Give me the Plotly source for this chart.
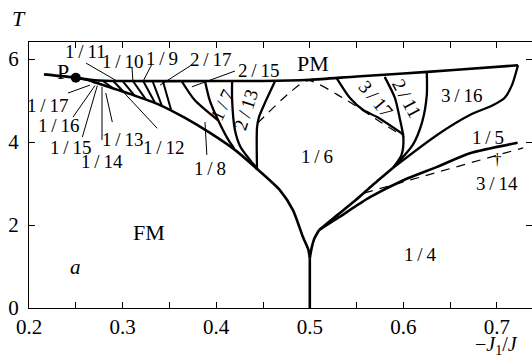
import plotly.graph_objects as go

# ---------------- data ----------------
# paramagnetic (PM) boundary
pm_x = [0.216, 0.25, 0.27, 0.30, 0.40, 0.45, 0.50, 0.55, 0.60, 0.65, 0.7224]
pm_T = [5.63, 5.55, 5.49, 5.47, 5.47, 5.47, 5.50, 5.58, 5.65, 5.73, 5.85]

# FM boundary (envelope) continuing into left branch of the 1/6 tongue
env_x = [0.25, 0.262, 0.2727, 0.3079, 0.340, 0.3667, 0.3934, 0.420, 0.4447, 0.468, 0.482, 0.4927, 0.4985, 0.5]
env_T = [5.55, 5.50, 5.42, 5.16, 4.89, 4.58, 4.22, 3.81, 3.33, 2.84, 2.36, 1.71, 1.40, 1.20]

# vertical line at -J1/J = 0.5
vert_x = [0.5, 0.5]
vert_T = [1.20, 0.0]

# right branch from the cusp
cusp_x = [0.5, 0.502, 0.505, 0.51]
cusp_T = [1.20, 1.45, 1.68, 1.88]
upper_x = [0.51, 0.53, 0.55, 0.567, 0.589]
upper_T = [1.88, 2.25, 2.62, 2.96, 3.38]
lower_x = [0.51, 0.53, 0.5643, 0.60, 0.636, 0.671, 0.722]
lower_T = [1.88, 2.17, 2.67, 3.08, 3.40, 3.73, 3.98]

# small-fraction fan (1/9 ... 1/17) boundaries: top point -> envelope point
fan_x0 = [0.279, 0.290, 0.300, 0.311, 0.322, 0.332, 0.343]
fan_T0 = [5.47, 5.47, 5.47, 5.47, 5.47, 5.47, 5.47]
fan_x1 = [0.290, 0.301, 0.313, 0.325, 0.335, 0.342, 0.352]
fan_T1 = [5.29, 5.21, 5.11, 5.02, 4.93, 4.87, 4.76]

# larger tongues (left side)
b18_x = [0.363, 0.377, 0.402]
b18_T = [5.47, 5.01, 4.52]
b17_x = [0.388, 0.393, 0.402, 0.413, 0.419]
b17_T = [5.47, 5.01, 4.53, 4.05, 3.85]
b17_213_x = [0.417, 0.417, 0.420, 0.426, 0.436, 0.4436]
b17_213_T = [5.47, 5.01, 4.29, 3.88, 3.57, 3.37]
b213_x = [0.463, 0.452, 0.4457, 0.4436, 0.4436]
b213_T = [5.47, 4.94, 4.60, 4.34, 3.33]

# tongues (right side)
b317_x = [0.529, 0.543, 0.557, 0.572, 0.6006]
b317_T = [5.53, 5.06, 4.77, 4.60, 4.17]
b317_211_x = [0.580, 0.591, 0.596, 0.600, 0.598, 0.589]
b317_211_T = [5.57, 5.06, 4.58, 4.10, 3.69, 3.38]
b211_316_x = [0.625, 0.625, 0.620, 0.610, 0.589]
b211_316_T = [5.69, 5.13, 4.48, 3.93, 3.38]
b316_x = [0.589, 0.636, 0.671, 0.696, 0.708, 0.716, 0.7224]
b316_T = [3.38, 4.17, 4.65, 4.89, 5.06, 5.37, 5.85]

# dashed lines
dash1_x = [0.444, 0.479, 0.498, 0.5355, 0.577, 0.601]
dash1_T = [4.45, 5.20, 5.48, 5.06, 4.46, 4.12]
dash2_x = [0.558, 0.728]
dash2_T = [2.77, 3.86]

# leader lines for the labels
lead_names = ["1/17", "1/16", "1/15", "1/14", "1/13", "1/12", "1/11", "1/10", "1/9", "2/17", "2/15", "1/8"]
lead_x0 = [0.2417, 0.247, 0.257, 0.278, 0.289, 0.337, 0.261, 0.310, 0.331, 0.374, 0.420, 0.390]
lead_T0 = [5.18, 4.60, 4.12, 4.05, 4.48, 4.33, 5.90, 5.81, 5.86, 5.86, 5.71, 3.69]
lead_x1 = [0.265, 0.2705, 0.273, 0.278, 0.282, 0.294, 0.294, 0.311, 0.322, 0.340, 0.374, 0.388]
lead_T1 = [5.37, 5.36, 5.36, 5.33, 5.18, 5.37, 5.47, 5.49, 5.47, 5.37, 5.33, 4.48]

# point P
p_x = [0.25]
p_T = [5.55]

# region labels
lab_text = ["1/17", "1/16", "1/15", "1/14", "1/13", "1/12", "1/11", "1/10", "1/9", "2/17", "2/15", "1/8",
            "1/7", "2/13", "3/17", "2/11", "3/16", "1/5", "3/14", "1/6", "1/4"]
lab_x = [0.220, 0.231, 0.244, 0.278, 0.300, 0.344, 0.260, 0.300, 0.342, 0.394, 0.445, 0.393,
         0.406, 0.431, 0.570, 0.604, 0.6626, 0.690, 0.700, 0.508, 0.618]
lab_T = [4.89, 4.41, 3.86, 3.52, 4.07, 3.86, 6.19, 5.95, 6.02, 5.98, 5.73, 3.37,
         4.89, 4.77, 5.04, 5.06, 5.13, 4.12, 3.01, 3.64, 1.28]
lab_angle = [0, 0, 0, 0, 0, 0, 0, 0, 0, 0, 0, 0,
             -65, -72, 50, 62, 0, 0, 0, 0, 0]

big_text = ["PM", "FM", "P"]
big_x = [0.503, 0.328, 0.236]
big_T = [5.88, 1.81, 5.71]

x_ticks = [0.2, 0.3, 0.4, 0.5, 0.6, 0.7]
x_ticktext = ["0.2", "0.3", "0.4", "0.5", "0.6", "0.7"]
y_ticks = [0, 2, 4, 6]
y_ticktext = ["0", "2", "4", "6"]

# ---------------- figure ----------------
FONT = "Liberation Serif"
fig = go.Figure()


def add_line(x, y, w=2.6, dash=None, spline=True):
    fig.add_trace(go.Scatter(
        x=x, y=y, mode="lines", hoverinfo="skip", showlegend=False,
        line=dict(color="black", width=w, dash=dash,
                  shape="spline" if (spline and len(x) > 2) else "linear", smoothing=0.7)))


add_line(pm_x, pm_T, 2.6)
add_line(env_x, env_T, 2.6)
add_line(vert_x, vert_T, 2.6)
add_line(cusp_x, cusp_T, 2.6)
add_line(upper_x, upper_T, 2.6)
add_line(lower_x, lower_T, 2.6)
for i in range(len(fan_x0)):
    add_line([fan_x0[i], fan_x1[i]], [fan_T0[i], fan_T1[i]], 2.0)
for bx, bT in [(b18_x, b18_T), (b17_x, b17_T), (b17_213_x, b17_213_T), (b213_x, b213_T),
               (b317_x, b317_T), (b317_211_x, b317_211_T), (b211_316_x, b211_316_T), (b316_x, b316_T)]:
    add_line(bx, bT, 2.3)
add_line(dash1_x, dash1_T, 1.2, dash="9px,7px")
add_line(dash2_x, dash2_T, 1.2, dash="9px,7px")
for i in range(len(lead_x0)):
    add_line([lead_x0[i], lead_x1[i]], [lead_T0[i], lead_T1[i]], 1.0)

fig.add_trace(go.Scatter(x=p_x, y=p_T, mode="markers", hoverinfo="skip", showlegend=False,
                         marker=dict(color="black", size=10)))

TH = "\u2009"
for t, x, y, a in zip(lab_text, lab_x, lab_T, lab_angle):
    fig.add_annotation(x=x, y=y, text=t.replace("/", TH + "/" + TH), showarrow=False,
                       xanchor="center", yanchor="middle",
                       textangle=a, font=dict(family=FONT, size=19, color="black"))
for t, x, y in zip(big_text, big_x, big_T):
    fig.add_annotation(x=x, y=y, text=t, showarrow=False, xanchor="center", yanchor="middle",
                       font=dict(family=FONT, size=22, color="black"))
fig.add_annotation(x=0.250, y=0.99, text="<i>a</i>", showarrow=False,
                   xanchor="center", yanchor="middle",
                   font=dict(family=FONT, size=21, color="black"))
fig.add_annotation(x=0.701, y=3.59, text="\u2020", showarrow=False,
                   xanchor="center", yanchor="middle",
                   font=dict(family=FONT, size=17, color="black"))
fig.add_annotation(xref="paper", yref="paper", x=-0.02, y=1.09, text="<i>T</i>",
                   xanchor="center", yanchor="middle",
                   showarrow=False, font=dict(family=FONT, size=22, color="black"))
fig.add_annotation(xref="paper", yref="paper", x=0.93, y=-0.141,
                   text="\u2212<i>J</i><sub>1</sub>/<i>J</i>",
                   xanchor="center", yanchor="middle",
                   showarrow=False, font=dict(family=FONT, size=20, color="black"))

fig.update_layout(
    width=532, height=356,
    margin=dict(l=29, r=0, t=42, b=48),
    paper_bgcolor="white", plot_bgcolor="white",
    font=dict(family=FONT, color="black"),
    xaxis=dict(range=[0.2, 0.7374], tickvals=x_ticks, ticktext=x_ticktext,
               ticks="inside", ticklen=6, tickwidth=1, tickcolor="black",
               minor=dict(dtick=0.05, tick0=0.2, ticks="inside", ticklen=6, tickcolor="black"),
               showline=True, linecolor="black", linewidth=1.3, mirror="ticks",
               showgrid=False, zeroline=False, tickfont=dict(family=FONT, size=21)),
    yaxis=dict(range=[0, 6.41], tickvals=y_ticks, ticktext=y_ticktext,
               ticks="inside", ticklen=6, tickwidth=1, tickcolor="black",
               ticklabelstandoff=5,
               showline=True, linecolor="black", linewidth=1.3, mirror="ticks",
               showgrid=False, zeroline=False, tickfont=dict(family=FONT, size=21)),
)

fig.write_html("out.html")
